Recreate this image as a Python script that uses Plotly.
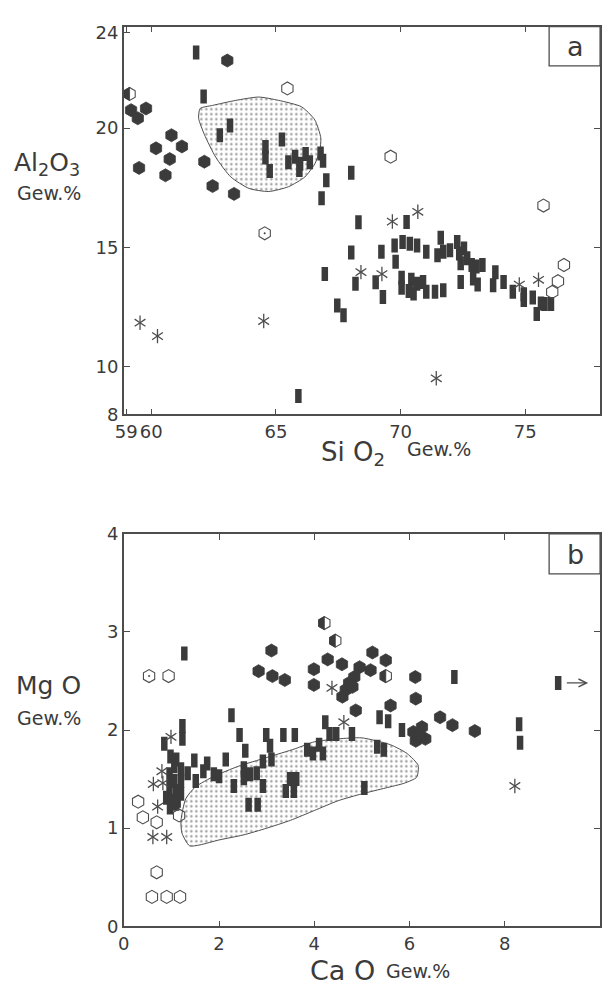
import math
import plotly.graph_objects as go

# ---------------- panel a: Al2O3 vs SiO2 ----------------
bar_a_sio2 = [61.80, 62.10, 63.16, 62.75, 65.24, 64.58, 64.58, 64.75, 65.50, 65.77, 65.97, 66.19,
              66.36, 65.94, 66.79, 66.89, 67.02, 66.83, 68.02, 68.31, 68.02, 66.96, 68.19, 67.46,
              67.71, 65.90, 70.24, 69.23, 69.76, 70.08, 70.37, 70.66, 69.80, 69.00, 69.29, 71.03,
              70.04, 70.04, 70.43, 70.33, 70.52, 70.66, 70.90, 71.03, 71.38, 71.71, 71.61, 71.48,
              71.71, 71.98, 72.27, 72.35, 72.54, 72.41, 72.67, 72.85, 73.04, 73.28, 72.41, 72.91,
              73.09, 73.80, 73.71, 74.13, 74.50, 74.94, 74.94, 75.30, 75.63, 75.77, 76.03, 75.46]
bar_a_al2o3 = [23.17, 21.32, 20.11, 19.70, 19.52, 19.21, 18.77, 18.20, 18.57, 18.80, 18.50, 18.91,
               18.57, 18.24, 18.93, 18.63, 17.81, 17.06, 18.13, 16.05, 14.78, 13.88, 13.47, 12.56,
               12.15, 8.77, 16.06, 14.81, 15.08, 15.22, 15.15, 15.08, 14.40, 13.54, 12.92, 14.81,
               13.72, 13.31, 13.64, 13.17, 13.06, 13.47, 13.55, 13.14, 13.14, 13.20, 15.40, 14.67,
               14.81, 14.88, 15.22, 14.74, 14.95, 14.33, 14.54, 14.26, 14.20, 14.26, 13.55, 13.69,
               13.44, 13.96, 13.41, 13.55, 13.14, 13.03, 12.79, 12.90, 12.65, 12.62, 12.62, 12.21]

hex_a_sio2 = [63.05, 59.19, 59.46, 59.79, 60.81, 60.19, 61.23, 60.74, 59.51, 60.57, 62.13, 62.46, 63.32]
hex_a_al2o3 = [22.83, 20.75, 20.41, 20.82, 19.70, 19.15, 19.23, 18.70, 18.33, 18.02, 18.59, 17.57, 17.24]

half_a_sio2 = [59.13]
half_a_al2o3 = [21.43]

open_a_sio2 = [65.46, 69.60, 75.73, 76.55, 76.31, 76.08]
open_a_al2o3 = [21.66, 18.80, 16.75, 14.26, 13.58, 13.13]

dot_a_sio2 = [64.55]
dot_a_al2o3 = [15.59]

star_a_sio2 = [59.55, 60.25, 64.51, 69.67, 70.69, 68.41, 69.25, 74.76, 75.53, 71.43]
star_a_al2o3 = [11.84, 11.28, 11.91, 16.08, 16.49, 13.96, 13.88, 13.44, 13.64, 9.51]

field_a_sio2 = [61.96, 62.46, 63.39, 64.31, 65.11, 66.03, 66.56, 66.80, 66.76, 66.56, 66.16, 65.50,
                64.71, 63.92, 63.19, 62.59, 62.13, 61.90, 61.96]
field_a_al2o3 = [20.82, 20.95, 21.16, 21.30, 21.16, 20.89, 20.34, 19.59, 19.05, 18.50, 17.95, 17.54,
                 17.34, 17.47, 17.95, 18.77, 19.73, 20.41, 20.82]

# ---------------- panel b: MgO vs CaO ----------------
bar_b_cao = [1.27, 2.26, 2.43, 2.55, 2.99, 3.07, 3.35, 3.59, 2.14, 1.48, 1.75, 1.67, 1.89, 2.00,
             1.51, 2.31, 2.52, 2.52, 2.65, 2.79, 2.92, 3.10, 2.92, 2.62, 2.81, 3.40, 3.57, 3.49,
             3.62, 3.85, 3.97, 4.10, 4.18, 4.23, 4.32, 4.46, 4.79, 1.23, 1.23, 0.85, 0.98, 1.10,
             1.06, 1.20, 1.34, 0.96, 1.06, 1.20, 0.96, 1.10, 1.20, 0.89, 0.99, 1.13, 0.97, 1.10,
             6.94, 9.12, 8.30, 8.32, 5.37, 5.55, 5.84, 5.32, 5.46, 5.05]
bar_b_mgo = [2.78, 2.15, 1.95, 1.79, 1.95, 1.84, 1.95, 1.95, 1.70, 1.69, 1.66, 1.58, 1.55, 1.53,
             1.48, 1.43, 1.61, 1.51, 1.55, 1.56, 1.68, 1.70, 1.43, 1.24, 1.24, 1.38, 1.38, 1.50,
             1.50, 1.80, 1.76, 1.85, 1.76, 2.08, 1.96, 1.96, 1.96, 2.04, 1.91, 1.86, 1.73, 1.70,
             1.63, 1.60, 1.56, 1.55, 1.48, 1.48, 1.41, 1.38, 1.35, 1.31, 1.28, 1.28, 1.21, 1.25,
             2.54, 2.48, 2.06, 1.87, 2.13, 2.09, 2.00, 1.83, 1.80, 1.41]

hex_b_cao = [3.10, 2.83, 3.12, 3.38, 4.28, 4.58, 3.99, 3.99, 4.87, 5.22, 5.50, 4.95, 5.18, 4.84,
             4.73, 4.66, 4.59, 4.80, 5.60, 6.12, 6.13, 6.64, 6.90, 7.37, 6.08, 6.26, 6.33, 6.13, 6.20]
hex_b_mgo = [2.81, 2.60, 2.55, 2.51, 2.72, 2.67, 2.62, 2.46, 2.20, 2.79, 2.71, 2.64, 2.61, 2.54,
             2.48, 2.41, 2.34, 2.44, 2.25, 2.54, 2.32, 2.13, 2.05, 1.99, 1.98, 2.03, 1.91, 1.89, 1.95]

half_b_cao = [4.21, 4.44, 5.50]
half_b_mgo = [3.09, 2.91, 2.55]

open_b_cao = [0.94, 0.30, 0.40, 0.69, 1.16, 0.69, 0.59, 0.90, 1.18]
open_b_mgo = [2.55, 1.27, 1.11, 1.06, 1.13, 0.55, 0.30, 0.30, 0.30]

dot_b_cao = [0.53]
dot_b_mgo = [2.55]

star_b_cao = [0.61, 0.90, 0.71, 0.62, 0.82, 0.80, 0.99, 4.37, 4.62, 8.21]
star_b_mgo = [0.91, 0.91, 1.22, 1.45, 1.46, 1.58, 1.93, 2.43, 2.08, 1.43]

# sample plotted at its MgO value but with CaO off the axis range
offscale_b_cao = [9.12]
offscale_b_mgo = [2.48]

field_b_cao = [1.38, 1.22, 1.20, 1.30, 1.50, 1.90, 2.40, 3.00, 3.60, 4.00, 4.50, 5.00, 5.60, 5.95,
               6.18, 6.15, 5.90, 5.50, 5.00, 4.50, 4.00, 3.50, 3.00, 2.50, 2.00, 1.60, 1.38]
field_b_mgo = [0.82, 0.95, 1.08, 1.30, 1.42, 1.53, 1.63, 1.72, 1.81, 1.88, 1.91, 1.92, 1.85, 1.76,
               1.64, 1.52, 1.46, 1.41, 1.35, 1.28, 1.18, 1.08, 1.00, 0.93, 0.88, 0.83, 0.82]

# ---------------- styling ----------------
INK = "#3b3b3b"
LINE = "#4d4d4d"
FONT = "DejaVu Sans"
W, H = 609, 998
HEX = 13
BAR = 10
STAR = 9

fig = go.Figure()


def add_panel(xa, ya, field, bars, hexes, opens, dots, stars):
    fig.add_trace(go.Scatter(
        x=field[0], y=field[1], xaxis=xa, yaxis=ya, mode="lines", fill="toself",
        line=dict(color=LINE, width=1, shape="spline", smoothing=0.6),
        fillcolor="white",
        fillpattern=dict(shape=".", fgcolor="#333333", bgcolor="white", size=5, solidity=0.18),
        hoverinfo="skip", showlegend=False))
    fig.add_trace(go.Scatter(
        x=bars[0], y=bars[1], xaxis=xa, yaxis=ya, mode="markers", showlegend=False,
        marker=dict(symbol="line-ns", size=BAR, line=dict(color=INK, width=6.5))))
    fig.add_trace(go.Scatter(
        x=hexes[0], y=hexes[1], xaxis=xa, yaxis=ya, mode="markers", showlegend=False,
        marker=dict(symbol="hexagon", size=HEX, color=INK, line=dict(color=INK, width=0.8))))
    fig.add_trace(go.Scatter(
        x=opens[0], y=opens[1], xaxis=xa, yaxis=ya, mode="markers", showlegend=False,
        marker=dict(symbol="hexagon-open", size=HEX, color=LINE, line=dict(color=LINE, width=1.1))))
    fig.add_trace(go.Scatter(
        x=dots[0], y=dots[1], xaxis=xa, yaxis=ya, mode="markers", showlegend=False,
        marker=dict(symbol="hexagon-open-dot", size=HEX, color=LINE, line=dict(color=LINE, width=1.1))))
    for sym in ("y-up-open", "y-down-open"):
        fig.add_trace(go.Scatter(
            x=stars[0], y=stars[1], xaxis=xa, yaxis=ya, mode="markers", showlegend=False,
            marker=dict(symbol=sym, size=STAR, color=LINE, line=dict(color=LINE, width=1.3))))


add_panel("x", "y", (field_a_sio2, field_a_al2o3), (bar_a_sio2, bar_a_al2o3),
          (hex_a_sio2, hex_a_al2o3), (open_a_sio2 + half_a_sio2, open_a_al2o3 + half_a_al2o3),
          (dot_a_sio2, dot_a_al2o3), (star_a_sio2, star_a_al2o3))
add_panel("x2", "y2", (field_b_cao, field_b_mgo), (bar_b_cao, bar_b_mgo),
          (hex_b_cao, hex_b_mgo), (open_b_cao + half_b_cao, open_b_mgo + half_b_mgo),
          (dot_b_cao, dot_b_mgo), (star_b_cao, star_b_mgo))

# left half of the half-filled hexagons, in pixels around each sample
r = HEX / 2
rt, rc = r * math.sqrt(3) / 2, r / 2
half_path = f"M0,{-r} L{-rt},{-rc} L{-rt},{rc} L0,{r} Z"
shapes = []
for xr, yr, xs, ys in (("x", "y", half_a_sio2, half_a_al2o3), ("x2", "y2", half_b_cao, half_b_mgo)):
    for xv, yv in zip(xs, ys):
        shapes.append(dict(type="path", xref=xr, yref=yr, xsizemode="pixel", ysizemode="pixel",
                           xanchor=xv, yanchor=yv, path=half_path, fillcolor=INK,
                           line=dict(color=INK, width=0.8)))

# panel letters in boxed corners
for xr, yr, y0 in (("x domain", "y domain", 0.899), ("x2 domain", "y2 domain", 0.898)):
    shapes.append(dict(type="rect", xref=xr, yref=yr, x0=0.893, x1=1, y0=y0, y1=1,
                       line=dict(color=LINE, width=1.3), fillcolor="white"))


def px(x, y):
    return x / W, 1 - y / H


annotations = []


def label(text, x, y, size, xanchor="center"):
    ax, ay = px(x, y)
    annotations.append(dict(text=text, x=ax, y=ay, xref="paper", yref="paper", showarrow=False,
                            xanchor=xanchor, yanchor="middle",
                            font=dict(family=FONT, size=size, color=INK)))


label("a", 575, 36, 27)
label("b", 575, 555, 27)
label("Al<sub>2</sub>O<sub>3</sub>", 6, 156, 25, "left")
label("Gew.%", 9, 186, 19, "left")
label("Si O<sub>2</sub>", 316, 452, 26, "left")
label("Gew.%", 403, 447, 19, "left")
label("Mg O", 8, 689, 25, "left")
label("Gew.%", 9, 722, 19, "left")
label("Ca O", 305, 980, 27, "left")
label("Gew.%", 382, 981, 19, "left")

# arrow for the off-scale sample
for xv, yv in zip(offscale_b_cao, offscale_b_mgo):
    annotations.append(dict(x=xv + 0.63, y=yv, ax=xv + 0.15, ay=yv, xref="x2", yref="y2",
                            axref="x2", ayref="y2", showarrow=True, arrowhead=5, arrowsize=1.3,
                            arrowwidth=1.2, arrowcolor=LINE, text=""))

axis_common = dict(showline=True, linecolor=LINE, linewidth=1.5, mirror="ticks", ticks="inside",
                   ticklen=6, tickwidth=1.2, tickcolor=LINE, showgrid=False, zeroline=False,
                   tickfont=dict(family=FONT, size=18, color=INK), fixedrange=True)

xdom = [119 / W, 600 / W]
fig.update_layout(
    width=W, height=H, autosize=False,
    margin=dict(l=0, r=0, t=0, b=0),
    paper_bgcolor="white", plot_bgcolor="white",
    showlegend=False,
    xaxis=dict(domain=xdom, range=[58.9, 78], tickvals=[59, 60, 65, 70, 75, 78], anchor="y",
               **axis_common),
    yaxis=dict(domain=[1 - 412 / H, 1 - 16 / H], range=[8, 24.25], tickvals=[8, 10, 15, 20, 24],
               anchor="x", **axis_common),
    xaxis2=dict(domain=xdom, range=[0, 10], tickvals=[0, 2, 4, 6, 8, 10], anchor="y2",
                **axis_common),
    yaxis2=dict(domain=[1 - 935 / H, 1 - 534 / H], range=[0, 4], tickvals=[0, 1, 2, 3, 4],
                anchor="x2", **axis_common),
    shapes=shapes,
    annotations=annotations,
)

fig.write_html("out.html")
